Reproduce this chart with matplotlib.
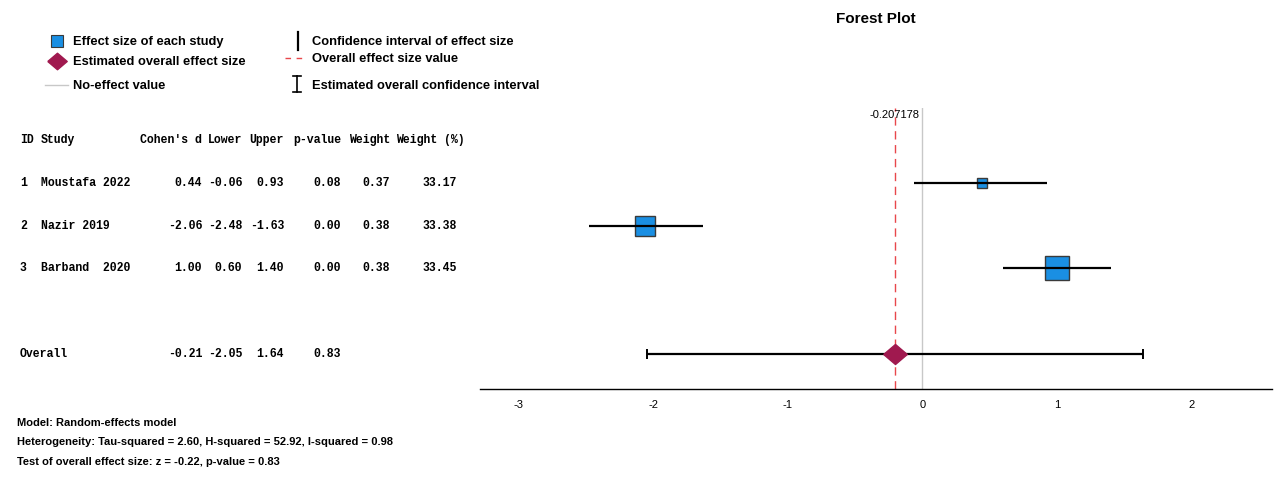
import matplotlib
matplotlib.use("Agg")
import matplotlib.pyplot as plt
import matplotlib.transforms as mtransforms
import numpy as np

# ---------------- data ----------------
ids = ["1", "2", "3"]
studies = ["Moustafa 2022", "Nazir 2019", "Barband  2020"]
cohens_d = [0.44, -2.06, 1.00]
lower = [-0.06, -2.48, 0.60]
upper = [0.93, -1.63, 1.40]
p_values = [0.08, 0.00, 0.00]
weights = [0.37, 0.38, 0.38]
weight_pct = [33.17, 33.38, 33.45]

overall_d = -0.21
overall_lower = -2.05
overall_upper = 1.64
overall_p = 0.83
overall_exact = -0.207178

xticks = [-3, -2, -1, 0, 1, 2]
headers = ["ID", "Study", "Cohen's d", "Lower", "Upper", "p-value", "Weight", "Weight (%)"]
footer_lines = [
    "Model: Random-effects model",
    "Heterogeneity: Tau-squared = 2.60, H-squared = 52.92, I-squared = 0.98",
    "Test of overall effect size: z = -0.22, p-value = 0.83",
]

# ---------------- figure ----------------
W, H = 1287, 483
fig = plt.figure(figsize=(W / 100, H / 100), dpi=100)

# overlay axes in pixel coordinates for annotations/legend
ax0 = fig.add_axes([0, 0, 1, 1])
ax0.set_xlim(0, W)
ax0.set_ylim(H, 0)
ax0.axis("off")

# main plot axes
L, R, T, B = 480, 1272, 108, 389
ax = fig.add_axes([L / W, (H - B) / H, (R - L) / W, (B - T) / H])
ax.set_xlim(-3.29, 2.60)
ax.set_ylim(5.82, -0.754)
for s in ["top", "right", "left"]:
    ax.spines[s].set_visible(False)
ax.spines["bottom"].set_linewidth(1.0)
ax.set_yticks([])
ax.set_xticks(xticks)
ax.set_xticklabels([str(t) for t in xticks], fontsize=8, family="Liberation Sans")
ax.tick_params(axis="x", length=0, pad=8)

rows = np.arange(1, len(studies) + 1)
overall_row = len(studies) + 2

# no-effect line and overall effect line
ax.axvline(0, color="#c8c8c8", lw=1.0, zorder=1)
ax.axvline(overall_exact, color="#e8474b", lw=1.0, ls=(0, (6, 4)), zorder=1)
ax.text(overall_exact, -0.6, f"{overall_exact:.6f}", ha="center", va="center",
        fontsize=8, family="Liberation Sans")

# study boxes (size scaled by weight)
wmin, wmax = min(weight_pct), max(weight_pct)
for r, d, lo, hi, wp in zip(rows, cohens_d, lower, upper, weight_pct):
    side_px = 10 + 14 * (wp - wmin) / (wmax - wmin)
    ax.plot([d], [r], marker="s", ms=side_px * 0.72, mfc="#1a8fe3",
            mec="#3a3a3a", mew=1.0, ls="none", zorder=3)
    ax.plot([lo, hi], [r, r], color="black", lw=1.6, zorder=4, solid_capstyle="butt")

# overall CI + diamond
ax.errorbar([overall_d], [overall_row],
            xerr=[[overall_d - overall_lower], [overall_upper - overall_d]],
            fmt="none", ecolor="black", elinewidth=1.6, capsize=3.3, capthick=1.4, zorder=4)
diamond = [(-1, 0), (0, 0.85), (1, 0), (0, -0.85), (-1, 0)]
ax.plot([overall_exact], [overall_row], marker=diamond, ms=17, mfc="#a0194f",
        mec="#a0194f", ls="none", zorder=5)

# title (centred over the plot axes)
ax0.text((L + R) / 2, 19, "Forest Plot", ha="center", va="center", fontsize=11,
         fontweight="bold", family="Liberation Sans")

# ---------------- table ----------------
tr = mtransforms.blended_transform_factory(ax0.transData, ax.transData)
mono = dict(family="Liberation Mono", fontweight="bold", fontsize=8.3, va="center",
            transform=tr)
col_right = [202, 242, 284, 341, 390, 457]

ax0.text(20, 0, headers[0], ha="left", **mono)
ax0.text(41, 0, headers[1], ha="left", **mono)
for x, h in zip(col_right[:5], headers[2:7]):
    ax0.text(x, 0, h, ha="right", **mono)
ax0.text(396, 0, headers[7], ha="left", **mono)

for r, i, st, d, lo, hi, p, w, wp in zip(rows, ids, studies, cohens_d, lower, upper,
                                          p_values, weights, weight_pct):
    ax0.text(20, r, i, ha="left", **mono)
    ax0.text(41, r, st, ha="left", **mono)
    vals = [f"{d:.2f}", f"{lo:.2f}", f"{hi:.2f}", f"{p:.2f}", f"{w:.2f}", f"{wp:.2f}"]
    for x, v in zip(col_right, vals):
        ax0.text(x, r, v, ha="right", **mono)

ax0.text(20, overall_row, "Overall", ha="left", **mono)
for x, v in zip(col_right[:4], [overall_d, overall_lower, overall_upper, overall_p]):
    ax0.text(x, overall_row, f"{v:.2f}", ha="right", **mono)

# ---------------- legend ----------------
lg = dict(family="Liberation Sans", fontweight="bold", fontsize=9.3, va="center", ha="left")
ax0.plot([57], [41], marker="s", ms=9, mfc="#1a8fe3", mec="#3a3a3a", mew=0.8, ls="none")
ax0.text(73, 42, "Effect size of each study", **lg)
ax0.plot([57], [61], marker=diamond, ms=14, mfc="#a0194f", mec="#a0194f", ls="none")
ax0.text(73, 62, "Estimated overall effect size", **lg)
ax0.plot([45, 68], [85, 85], color="#c8c8c8", lw=1.0)
ax0.text(73, 86, "No-effect value", **lg)

ax0.plot([298, 298], [32, 50], color="black", lw=1.6)
ax0.text(312, 42, "Confidence interval of effect size", **lg)
ax0.plot([285, 305], [58, 58], color="#e8474b", lw=1.0, ls=(0, (4, 4)))
ax0.text(312, 59, "Overall effect size value", **lg)
ax0.plot([297, 297], [76, 92], color="black", lw=1.2)
ax0.plot([293, 301], [76, 76], color="black", lw=1.2)
ax0.plot([293, 301], [92, 92], color="black", lw=1.2)
ax0.text(312, 86, "Estimated overall confidence interval", **lg)

# ---------------- footer ----------------
ft = dict(family="Liberation Sans", fontweight="bold", fontsize=8.0, va="center", ha="left")
for y, line in zip([423, 442, 462], footer_lines):
    ax0.text(17, y, line, **ft)

fig.savefig("out.png", dpi=100)
